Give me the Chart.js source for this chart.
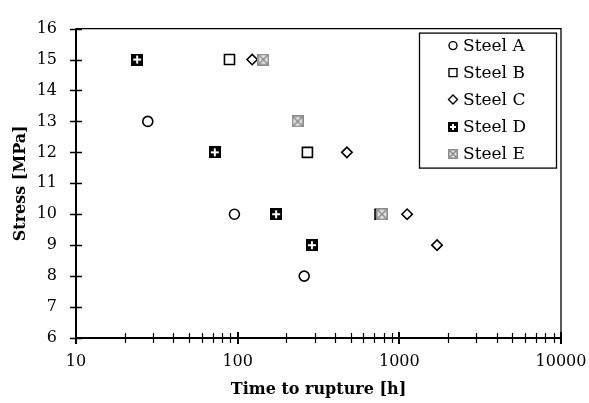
<!DOCTYPE html>
<html lang="en">

<head>
    <meta charset="UTF-8">
    <title>Stress vs time to rupture</title>
    <style>
        html, body { margin: 0; padding: 0; background: #fff; }
        #wrap { width: 589px; height: 403px; }
    </style>
</head>

<body>
    <div id="wrap"><canvas id="rupture"></canvas></div>

    <script src="https://cdn.jsdelivr.net/npm/chart.js"></script>

    <script>
        // values (time in h, stress in MPa)
        const steelA_time = [27.8, 95.5, 258]
        const steelA_stress = [13, 10, 8]
        const steelB_time = [89, 270, 760]
        const steelB_stress = [15, 12, 10]
        const steelC_time = [123, 474, 1117, 1711]
        const steelC_stress = [15, 12, 10, 9]
        const steelD_time = [23.9, 72.2, 173, 288]
        const steelD_stress = [15, 12, 10, 9]
        const steelE_time = [144, 235, 780]
        const steelE_stress = [15, 13, 10]

        const seriesNames = ["Steel A", "Steel B", "Steel C", "Steel D", "Steel E"]
        const xMajorTicks = [10, 100, 1000, 10000]
        const yTicks = [6, 7, 8, 9, 10, 11, 12, 13, 14, 15, 16]

        const serif = "'DejaVu Serif', 'Liberation Serif', serif"

        function pairs(xs, ys) {
            return xs.map(function (x, i) { return { x: x, y: ys[i] } })
        }

        // black square with white cross
        function markerD(size) {
            const c = document.createElement("canvas")
            c.width = size; c.height = size
            const g = c.getContext("2d")
            g.fillStyle = "#000"
            g.fillRect(0, 0, size, size)
            g.fillStyle = "#fff"
            const m = size / 2 - 1
            g.fillRect(m, 2, 2, size - 4)
            g.fillRect(2, m, size - 4, 2)
            return c
        }

        // grey square with an X
        function markerE(size) {
            const c = document.createElement("canvas")
            c.width = size; c.height = size
            const g = c.getContext("2d")
            g.fillStyle = "#e6e6e6"
            g.fillRect(0, 0, size, size)
            g.strokeStyle = "#8c8c8c"
            g.lineWidth = 1.6
            g.strokeRect(0.8, 0.8, size - 1.6, size - 1.6)
            g.beginPath()
            g.moveTo(1.5, 1.5); g.lineTo(size - 1.5, size - 1.5)
            g.moveTo(size - 1.5, 1.5); g.lineTo(1.5, size - 1.5)
            g.stroke()
            return c
        }

        const imgD = markerD(12), imgE = markerE(12)
        const smallD = markerD(10), smallE = markerE(10)

        const datasets = [
            { label: seriesNames[0], data: pairs(steelA_time, steelA_stress), pointStyle: "circle", pointRadius: 5, order: 5 },
            { label: seriesNames[1], data: pairs(steelB_time, steelB_stress), pointStyle: "rect", pointRadius: 7.1, order: 4 },
            { label: seriesNames[2], data: pairs(steelC_time, steelC_stress), pointStyle: "rectRot", pointRadius: 5.2, order: 3 },
            { label: seriesNames[3], data: pairs(steelD_time, steelD_stress), pointStyle: imgD, pointRadius: 6, order: 2 },
            { label: seriesNames[4], data: pairs(steelE_time, steelE_stress), pointStyle: imgE, pointRadius: 6, order: 1 }
        ]
        datasets.forEach(function (d) {
            d.showLine = false
            d.backgroundColor = "#fff"
            d.borderColor = "#000"
            d.pointBorderWidth = 1.6
            d.pointHoverRadius = d.pointRadius
        })

        // axis lines, frame and ticks crossing the axes
        const framePlugin = {
            id: "frame",
            afterDraw(chart) {
                const ctx = chart.ctx, a = chart.chartArea
                const xs = chart.scales.x, ys = chart.scales.y
                ctx.save()
                ctx.strokeStyle = "#000"
                ctx.lineWidth = 1.3
                ctx.beginPath()
                ctx.moveTo(a.left, a.top); ctx.lineTo(a.right, a.top); ctx.lineTo(a.right, a.bottom)
                ctx.stroke()
                ctx.lineWidth = 2
                ctx.beginPath()
                ctx.moveTo(a.left, a.top); ctx.lineTo(a.left, a.bottom); ctx.lineTo(a.right, a.bottom)
                ctx.stroke()

                ctx.lineWidth = 1.5
                ctx.beginPath()
                yTicks.forEach(function (v) {
                    const y = Math.round(ys.getPixelForValue(v)) + 0.5
                    ctx.moveTo(a.left - 6, y); ctx.lineTo(a.left + 6, y)
                })
                ctx.stroke()

                ctx.lineWidth = 1.2
                ctx.beginPath()
                for (let p = 10; p < 10000; p *= 10) {
                    for (let k = 2; k <= 9; k++) {
                        const x = Math.round(xs.getPixelForValue(k * p)) + 0.5
                        ctx.moveTo(x, a.bottom - 5); ctx.lineTo(x, a.bottom + 5)
                    }
                }
                ctx.stroke()
                ctx.lineWidth = 2
                ctx.beginPath()
                xMajorTicks.forEach(function (v) {
                    const x = Math.round(xs.getPixelForValue(v))
                    ctx.moveTo(x, a.bottom - 6); ctx.lineTo(x, a.bottom + 6)
                })
                ctx.stroke()
                ctx.restore()
            }
        }

        // boxed legend inside the plot, top right
        const boxLegend = {
            id: "boxLegend",
            afterDraw(chart) {
                const ctx = chart.ctx, a = chart.chartArea
                const w = 137, h = 135
                const left = a.right - 5 - w, top = a.top + 4
                ctx.save()
                ctx.fillStyle = "#fff"
                ctx.fillRect(left, top, w, h)
                ctx.strokeStyle = "#000"
                ctx.lineWidth = 1.3
                ctx.strokeRect(left + 0.5, top + 0.5, w, h)
                ctx.font = "17px " + serif
                ctx.textBaseline = "middle"
                ctx.textAlign = "left"
                chart.data.datasets.forEach(function (d, i) {
                    const cx = left + 34, cy = top + 13 + i * 27
                    ctx.fillStyle = "#fff"
                    ctx.strokeStyle = "#000"
                    ctx.lineWidth = 1.4
                    ctx.beginPath()
                    if (d.pointStyle === "circle") {
                        ctx.arc(cx, cy, 4, 0, Math.PI * 2)
                        ctx.fill(); ctx.stroke()
                    } else if (d.pointStyle === "rect") {
                        ctx.rect(cx - 4, cy - 4, 8, 8)
                        ctx.fill(); ctx.stroke()
                    } else if (d.pointStyle === "rectRot") {
                        ctx.moveTo(cx, cy - 4.5); ctx.lineTo(cx + 4.5, cy)
                        ctx.lineTo(cx, cy + 4.5); ctx.lineTo(cx - 4.5, cy)
                        ctx.closePath()
                        ctx.fill(); ctx.stroke()
                    } else {
                        const img = d.pointStyle === imgD ? smallD : smallE
                        ctx.drawImage(img, Math.round(cx - 5), Math.round(cy - 5))
                    }
                    ctx.fillStyle = "#000"
                    ctx.fillText(d.label, cx + 10, cy + 1)
                })
                ctx.restore()
            }
        }

        new Chart(document.getElementById("rupture"), {
            type: "scatter",
            data: { datasets: datasets },
            plugins: [framePlugin, boxLegend],
            options: {
                responsive: true,
                maintainAspectRatio: false,
                animation: false,
                layout: { padding: { top: 18, right: 28, left: 0, bottom: 0 } },
                plugins: {
                    legend: { display: false },
                    tooltip: { enabled: false }
                },
                scales: {
                    x: {
                        type: "logarithmic",
                        min: 10,
                        max: 10000,
                        grid: { display: false, drawTicks: false },
                        border: { display: false },
                        afterBuildTicks: function (scale) {
                            scale.ticks = xMajorTicks.map(function (v) { return { value: v } })
                        },
                        afterFit: function (scale) {
                            scale.height = 65
                            scale.paddingLeft = 0
                            scale.paddingRight = 0
                        },
                        ticks: {
                            autoSkip: false,
                            maxRotation: 0,
                            padding: 14,
                            color: "#000",
                            font: { family: serif, size: 16 },
                            callback: function (v) { return String(v) }
                        },
                        title: {
                            display: true,
                            text: "Time to rupture [h]",
                            color: "#000",
                            font: { family: serif, size: 16, weight: "bold" },
                            padding: { top: 0, bottom: 4 }
                        }
                    },
                    y: {
                        min: 6,
                        max: 16,
                        grid: { display: false, drawTicks: false },
                        border: { display: false },
                        afterBuildTicks: function (scale) {
                            scale.ticks = yTicks.map(function (v) { return { value: v } })
                        },
                        afterFit: function (scale) { scale.width = 76 },
                        ticks: {
                            padding: 19,
                            color: "#000",
                            font: { family: serif, size: 16 }
                        },
                        title: {
                            display: true,
                            text: "Stress [MPa]",
                            color: "#000",
                            font: { family: serif, size: 16, weight: "bold" },
                            padding: { top: 11, bottom: 0 }
                        }
                    }
                }
            }
        })
    </script>
</body>

</html>
